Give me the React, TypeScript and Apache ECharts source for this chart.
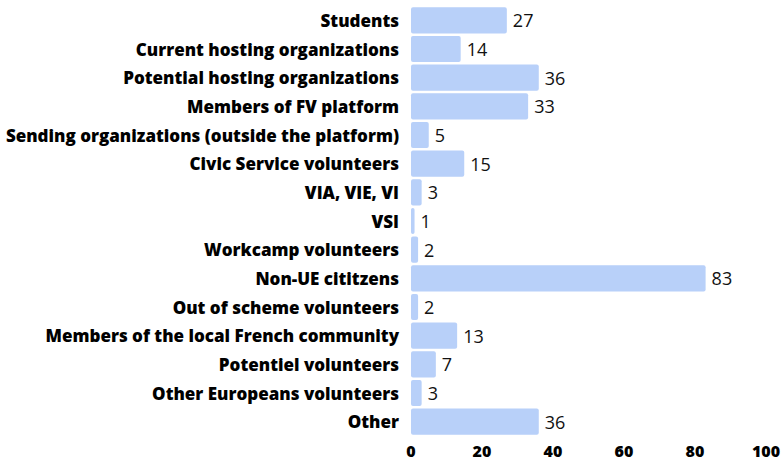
import React, { useEffect, useRef } from "react";
import * as echarts from "echarts";

const categories = [
  "Students",
  "Current hosting organizations",
  "Potential hosting organizations",
  "Members of FV platform",
  "Sending organizations (outside the platform)",
  "Civic Service volunteers",
  "VIA, VIE, VI",
  "VSI",
  "Workcamp volunteers",
  "Non-UE cititzens",
  "Out of scheme volunteers",
  "Members of the local French community",
  "Potentiel volunteers",
  "Other Europeans volunteers",
  "Other",
];
const values = [27, 14, 36, 33, 5, 15, 3, 1, 2, 83, 2, 13, 7, 3, 36];
const xTicks = [0, 20, 40, 60, 80, 100];

export default function App() {
  const ref = useRef<HTMLDivElement>(null);
  useEffect(() => {
    if (!ref.current) return;
    const chart = echarts.init(ref.current, null, { renderer: "svg" });
    chart.setOption({
      animation: false,
      grid: { left: 411, right: 14, top: 6, bottom: 28, containLabel: false },
      xAxis: {
        type: "value",
        min: xTicks[0],
        max: xTicks[xTicks.length - 1],
        interval: 20,
        splitLine: { show: false },
        axisLine: { show: false },
        axisTick: { show: false },
        axisLabel: {
          color: "#000",
          fontFamily: "Open Sans",
          fontWeight: 800,
          fontSize: 16,
          margin: 7,
        },
      },
      yAxis: {
        type: "category",
        data: categories,
        inverse: true,
        axisLine: { show: false },
        axisTick: { show: false },
        axisLabel: {
          color: "#000",
          fontFamily: "Open Sans",
          fontWeight: 800,
          fontSize: 17,
          margin: 12,
        },
      },
      series: [
        {
          type: "bar",
          data: values,
          barCategoryGap: "9%",
          itemStyle: { color: "#b8d0f9", borderRadius: 2 },
          label: {
            show: true,
            position: "right",
            distance: 6,
            color: "#111",
            fontFamily: "Open Sans",
            fontWeight: 400,
            fontSize: 18,
          },
        },
      ],
    });
    return () => chart.dispose();
  }, []);
  return <div ref={ref} style={{ width: 783, height: 464, position: "absolute", left: 0, top: 0 }} />;
}
